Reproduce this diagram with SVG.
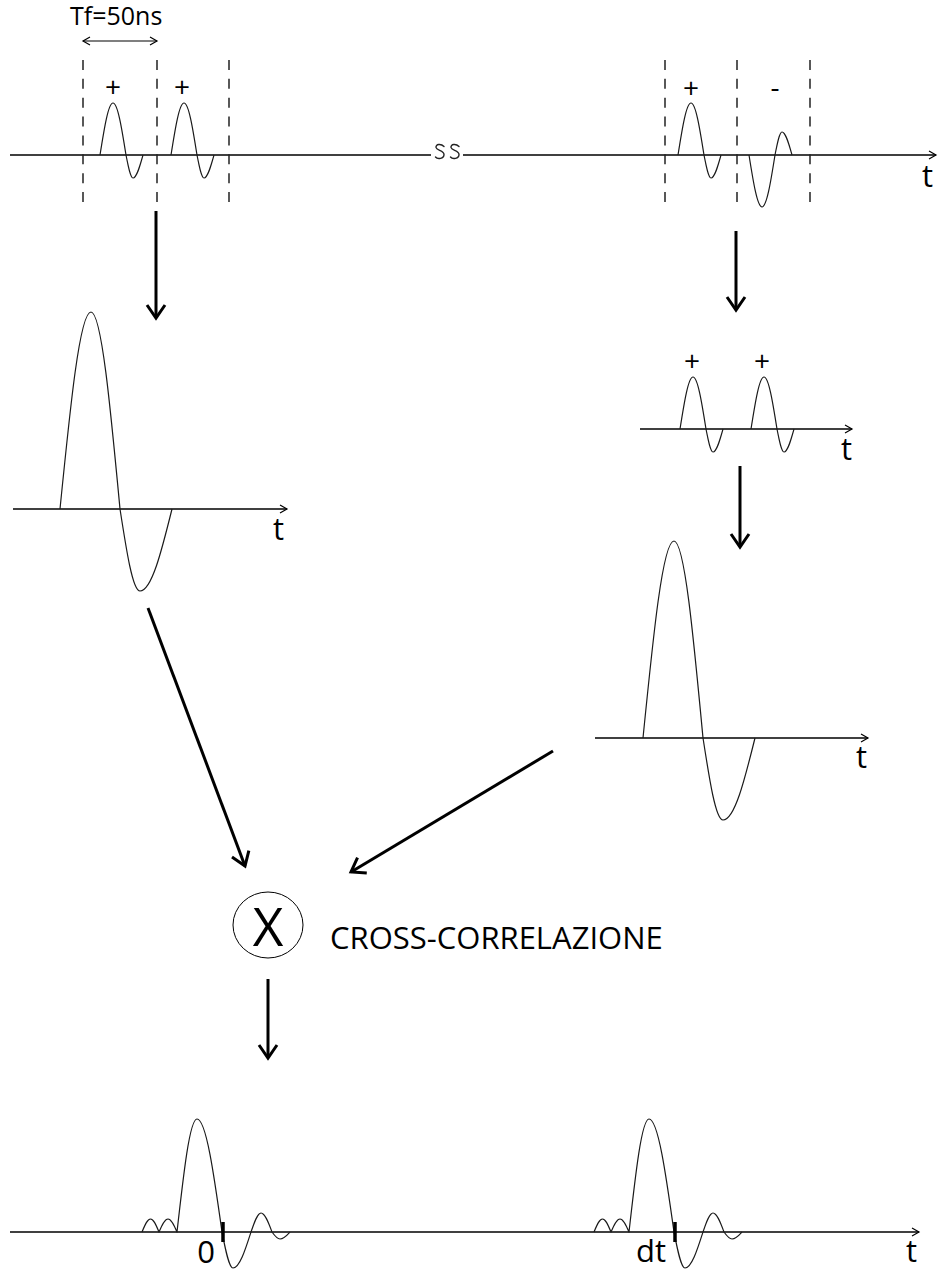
<svg xmlns="http://www.w3.org/2000/svg" width="938" height="1271" viewBox="0 0 938 1271">
  <style>
    .axis { fill: none; stroke: #000; stroke-width: 1.6; }
    .wave { fill: none; stroke: #1a1a1a; stroke-width: 1.2; stroke-linejoin: round; }
    .dash { fill: none; stroke: #222; stroke-width: 1.5; stroke-dasharray: 10 8.86; }
    .flow { fill: none; stroke: #000; stroke-width: 3; marker-end: url(#head); }
    .tick { stroke: #000; stroke-width: 3.5; }
    .lbl { font-family: "Open Sans", "Noto Sans", "Liberation Sans", sans-serif; fill: #000; }
    .t { font-size: 31px; }
    .sign { font-size: 28px; text-anchor: middle; }
  </style>
  <defs>
    <marker id="tip" markerUnits="userSpaceOnUse" viewBox="-10 -6 12 12" markerWidth="12" markerHeight="12" orient="auto-start-reverse">
      <path d="M-7,-4 L0,0 L-7,4" fill="none" stroke="#000" stroke-width="1.2"/>
    </marker>
    <marker id="head" markerUnits="userSpaceOnUse" viewBox="-16 -12 20 24" markerWidth="20" markerHeight="24" orient="auto">
      <path d="M-13,-9 L0,0 L-13,9" fill="none" stroke="#000" stroke-width="3"/>
    </marker>
    <!-- short doublet pulse on a baseline at y=155 -->
    <path id="pulse" class="wave" d="M100,155 C104.2,128.4 108.3,103 113,103 C117.7,103 121.8,128.4 126,155 C128.3,166.8 130.5,178 133,178 C136.6,178 139.7,166.8 143,155"/>
    <!-- stacked (summed) pulse on a baseline at y=509 -->
    <path id="stack" class="wave" d="M60,509 C70.1,408.1 79.7,312 91,312 C101.5,312 110.5,408.1 120,509 C126.5,551 132.7,591 140,591 C151.6,591 161.6,551 172,509"/>
    <!-- correlation output on a baseline at y=1232 -->
    <path id="xcorr" class="wave" d="M142,1232 C144.8,1225.3 147.4,1219 150.5,1219 C153.6,1219 156.2,1225.3 159,1232 C161.9,1225.3 164.7,1219 168,1219 C171.3,1219 174.1,1225.3 177,1232 C183.5,1174.1 189.7,1119 197,1119 C206.1,1119 213.9,1174.1 222,1232 C225.6,1250.4 229,1268 233,1268 C239.5,1268 245.1,1250.4 251,1232 C254.3,1222.3 257.4,1213 261,1213 C265,1213 268.4,1222.3 272,1232 C274.6,1235.6 277.1,1239 280,1239 C283.6,1239 286.7,1235.6 290,1232"/>
  </defs>

  <rect width="938" height="1271" fill="#fff"/>

  <!-- received trace with window markers -->
  <g id="trace-top">
    <line class="axis" x1="10" y1="155" x2="431" y2="155"/>
    <!-- axis break -->
    <path fill="none" stroke="#222" stroke-width="1.4" stroke-linecap="round" d="M444,146.5 C441,143.5 435.5,144 436,147.5 C436.5,150.5 444,150.5 444,154.5 C444,159 437.5,159.5 435.5,157 M459,146.5 C456,143.5 450.5,144 451,147.5 C451.5,150.5 459,150.5 459,154.5 C459,159 452.5,159.5 450.5,157"/>
    <line class="axis" x1="463" y1="155" x2="936" y2="155" marker-end="url(#tip)"/>
    <text class="lbl t" x="922" y="187">t</text>

    <line class="dash" x1="83" y1="60" x2="83" y2="202"/>
    <line class="dash" x1="157" y1="60" x2="157" y2="202"/>
    <line class="dash" x1="229" y1="60" x2="229" y2="202"/>
    <line class="dash" x1="665" y1="60" x2="665" y2="202"/>
    <line class="dash" x1="737" y1="60" x2="737" y2="202"/>
    <line class="dash" x1="810" y1="60" x2="810" y2="202"/>

    <line x1="83" y1="41" x2="157" y2="41" stroke="#000" stroke-width="1.2" marker-start="url(#tip)" marker-end="url(#tip)"/>
    <text class="lbl" x="70" y="25" font-size="25">Tf=50ns</text>

    <use href="#pulse"/>
    <use href="#pulse" transform="translate(71,0)"/>
    <use href="#pulse" transform="translate(578,0)"/>
    <use href="#pulse" transform="translate(649,310) scale(1,-1)"/>

    <text class="lbl sign" x="113" y="97">+</text>
    <text class="lbl sign" x="182" y="97">+</text>
    <text class="lbl sign" x="691" y="98">+</text>
    <text class="lbl sign" x="775" y="97">-</text>
  </g>

  <!-- left branch: stacked pulse -->
  <g id="stack-left">
    <line class="axis" x1="13" y1="509" x2="287" y2="509" marker-end="url(#tip)"/>
    <use href="#stack"/>
    <text class="lbl t" x="273" y="540">t</text>
  </g>

  <!-- right branch: sign-corrected pulses -->
  <g id="corrected-right">
    <line class="axis" x1="640" y1="429" x2="852" y2="429" marker-end="url(#tip)"/>
    <use href="#pulse" transform="translate(580,274)"/>
    <use href="#pulse" transform="translate(651,274)"/>
    <text class="lbl sign" x="692" y="371">+</text>
    <text class="lbl sign" x="762" y="371">+</text>
    <text class="lbl t" x="841" y="460">t</text>
  </g>

  <!-- right branch: stacked pulse -->
  <g id="stack-right">
    <line class="axis" x1="595" y1="738" x2="868" y2="738" marker-end="url(#tip)"/>
    <use href="#stack" transform="translate(583,229)"/>
    <text class="lbl t" x="856" y="768">t</text>
  </g>

  <!-- correlation operator -->
  <g id="xcorr-op">
    <ellipse cx="268" cy="925" rx="35" ry="33" fill="none" stroke="#000" stroke-width="1"/>
    <text class="lbl" x="268" y="946" font-size="53" text-anchor="middle">X</text>
    <text class="lbl" x="330" y="949" font-size="31">CROSS-CORRELAZIONE</text>
  </g>

  <!-- correlation output -->
  <g id="xcorr-out">
    <line class="axis" x1="10" y1="1232" x2="919" y2="1232" marker-end="url(#tip)"/>
    <use href="#xcorr"/>
    <use href="#xcorr" transform="translate(452,0)"/>
    <line class="tick" x1="223" y1="1222" x2="223" y2="1242"/>
    <line class="tick" x1="675" y1="1222" x2="675" y2="1242"/>
    <text class="lbl t" x="206" y="1263" text-anchor="middle">0</text>
    <text class="lbl t" x="636" y="1262">dt</text>
    <text class="lbl t" x="906" y="1262">t</text>
  </g>

  <!-- connectors -->
  <g id="connectors">
    <line class="flow" x1="156" y1="211" x2="156" y2="318"/>
    <line class="flow" x1="736" y1="231" x2="736" y2="310"/>
    <line class="flow" x1="740" y1="466" x2="740" y2="547"/>
    <line class="flow" x1="148" y1="608" x2="245" y2="866"/>
    <line class="flow" x1="553" y1="751" x2="351" y2="872"/>
    <line class="flow" x1="268" y1="979" x2="268" y2="1058"/>
  </g>
</svg>
